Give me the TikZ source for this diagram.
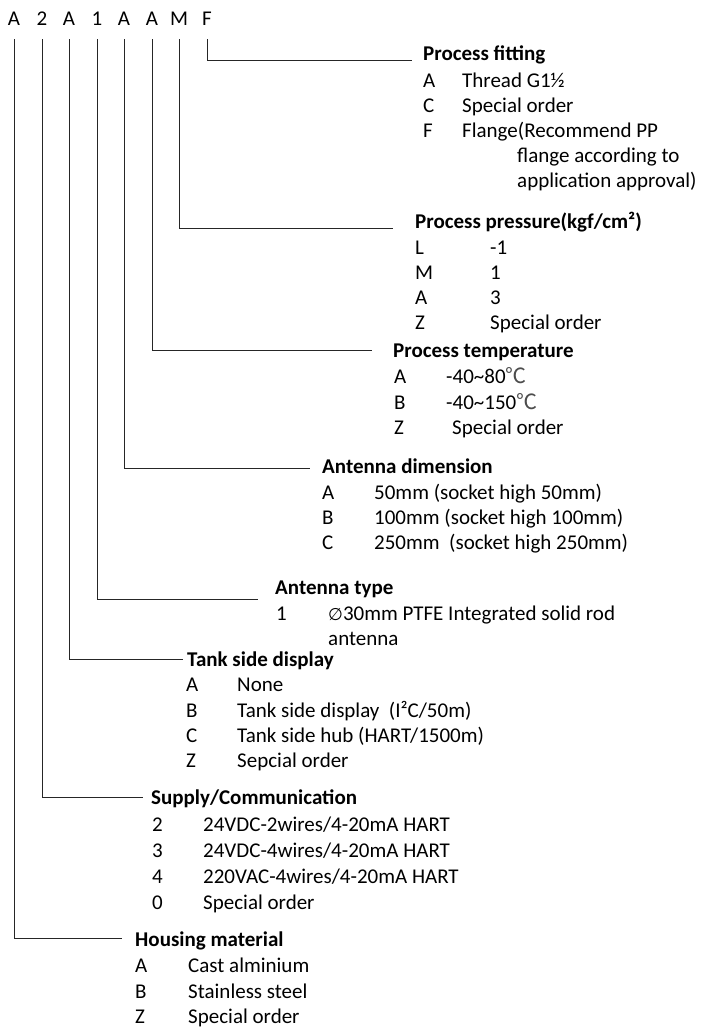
\documentclass[tikz,border=0pt]{standalone}
\usepackage{fontspec}
\setmainfont{Carlito}
\newfontfamily\cjk{Noto Sans CJK SC}
\newfontfamily\dejavu{DejaVu Sans}
\usepackage{tikz}

\newcommand{\degc}{{\cjk\color{black!70}℃}}

\begin{document}
\begin{tikzpicture}[x=1pt,y=-1pt,
		code/.style={anchor=base,inner sep=0pt},
		head/.style={anchor=base west,inner sep=0pt,font=\bfseries},
		item/.style={anchor=base west,inner sep=0pt},
		lead/.style={draw=black!85,line width=0.9pt}]
			\useasboundingbox (0,0) rectangle (703,1028);
			\fontsize{21}{25}\selectfont
			% order code
			\node[code] (kH) at (14,25) {A};
			\node[code] (kS) at (42,25) {2};
			\node[code] (kT) at (69,25) {A};
			\node[code] (kY) at (97,25) {1};
			\node[code] (kD) at (124,25) {A};
			\node[code] (kE) at (152,25) {A};
			\node[code] (kP) at (179,25) {M};
			\node[code] (kF) at (207,25) {F};
			% process fitting
			\coordinate (eF) at (412,60);
			\node[head] (hF) at (423,60) {Process fitting};
			\node[item] (fA) at (423,87) {A};
			\node[item] (fAt) at (462,87) {Thread G1½};
			\node[item] (fC) at (423,112) {C};
			\node[item] (fCt) at (462,112) {Special order};
			\node[item] (fF) at (423,137) {F};
			\node[item] (fFt) at (462,137) {Flange(Recommend PP};
			\node[item] (fFu) at (517,162) {flange according to};
			\node[item] (fFv) at (517,187) {application approval)};
			% process pressure
			\coordinate (eP) at (393,228);
			\node[head] (hP) at (415,228) {Process pressure(kgf/cm²)};
			\node[item] (pL) at (415,254) {L};
			\node[item] (pLt) at (490,254) {-1};
			\node[item] (pM) at (415,279) {M};
			\node[item] (pMt) at (490,279) {1};
			\node[item] (pA) at (415,304) {A};
			\node[item] (pAt) at (490,304) {3};
			\node[item] (pZ) at (415,329) {Z};
			\node[item] (pZt) at (490,329) {Special order};
			% process temperature
			\coordinate (eE) at (372,350);
			\node[head] (hE) at (393,357) {Process temperature};
			\node[item] (tA) at (394,383) {A};
			\node[item] (tAt) at (446,383) {-40\char"7E 80\degc};
			\node[item] (tB) at (394,409) {B};
			\node[item] (tBt) at (446,409) {-40\char"7E 150\degc};
			\node[item] (tZ) at (394,434) {Z};
			\node[item] (tZt) at (452,434) {Special order};
			% antenna dimension
			\coordinate (eD) at (310,468);
			\node[head] (hD) at (322,473) {Antenna dimension};
			\node[item] (dA) at (322,499) {A};
			\node[item] (dAt) at (374,499) {50mm (socket high 50mm)};
			\node[item] (dB) at (322,524) {B};
			\node[item] (dBt) at (374,524) {100mm (socket high 100mm)};
			\node[item] (dC) at (322,549) {C};
			\node[item] (dCt) at (374,549) {250mm\ \ (socket high 250mm)};
			% antenna type
			\coordinate (eY) at (258,599);
			\node[head] (hY) at (275,594) {Antenna type};
			\node[item] (y1) at (276,620) {1};
			\node[item] (y1t) at (328,620) {{\dejavu\fontsize{17}{20}\selectfont ∅}30mm PTFE Integrated solid rod};
			\node[item] (y1u) at (328,645) {antenna};
			% tank side display
			\coordinate (eT) at (183,659);
			\node[head] (hT) at (187,666) {Tank side display};
			\node[item] (sA) at (186,691) {A};
			\node[item] (sAt) at (237,691) {None};
			\node[item] (sB) at (186,717) {B};
			\node[item] (sBt) at (237,717) {Tank side display\ \ (I²C/50m)};
			\node[item] (sC) at (186,742) {C};
			\node[item] (sCt) at (237,742) {Tank side hub (HART/1500m)};
			\node[item] (sZ) at (186,767) {Z};
			\node[item] (sZt) at (237,767) {Sepcial order};
			% supply/communication
			\coordinate (eS) at (143,797);
			\node[head] (hS) at (151,804) {Supply/Communication};
			\node[item] (c2) at (152,831) {2};
			\node[item] (c2t) at (203,831) {24VDC-2wires/4-20mA HART};
			\node[item] (c3) at (152,857) {3};
			\node[item] (c3t) at (203,857) {24VDC-4wires/4-20mA HART};
			\node[item] (c4) at (152,883) {4};
			\node[item] (c4t) at (203,883) {220VAC-4wires/4-20mA HART};
			\node[item] (c0) at (152,909) {0};
			\node[item] (c0t) at (203,909) {Special order};
			% housing material
			\coordinate (eH) at (122,938);
			\node[head] (hH) at (135,946) {Housing material};
			\node[item] (mA) at (135,972) {A};
			\node[item] (mAt) at (188,972) {Cast alminium};
			\node[item] (mB) at (135,998) {B};
			\node[item] (mBt) at (188,998) {Stainless steel};
			\node[item] (mZ) at (135,1023) {Z};
			\node[item] (mZt) at (188,1023) {Special order};
			% leaders
			\draw[lead] ([yshift=-14pt]kF.south) |- (eF);
			\draw[lead] ([yshift=-14pt]kP.south) |- (eP);
			\draw[lead] ([yshift=-14pt]kE.south) |- (eE);
			\draw[lead] ([yshift=-14pt]kD.south) |- (eD);
			\draw[lead] ([yshift=-14pt]kY.south) |- (eY);
			\draw[lead] ([yshift=-14pt]kT.south) |- (eT);
			\draw[lead] ([yshift=-14pt]kS.south) |- (eS);
			\draw[lead] ([yshift=-14pt]kH.south) |- (eH);
		\end{tikzpicture}
\end{document}
